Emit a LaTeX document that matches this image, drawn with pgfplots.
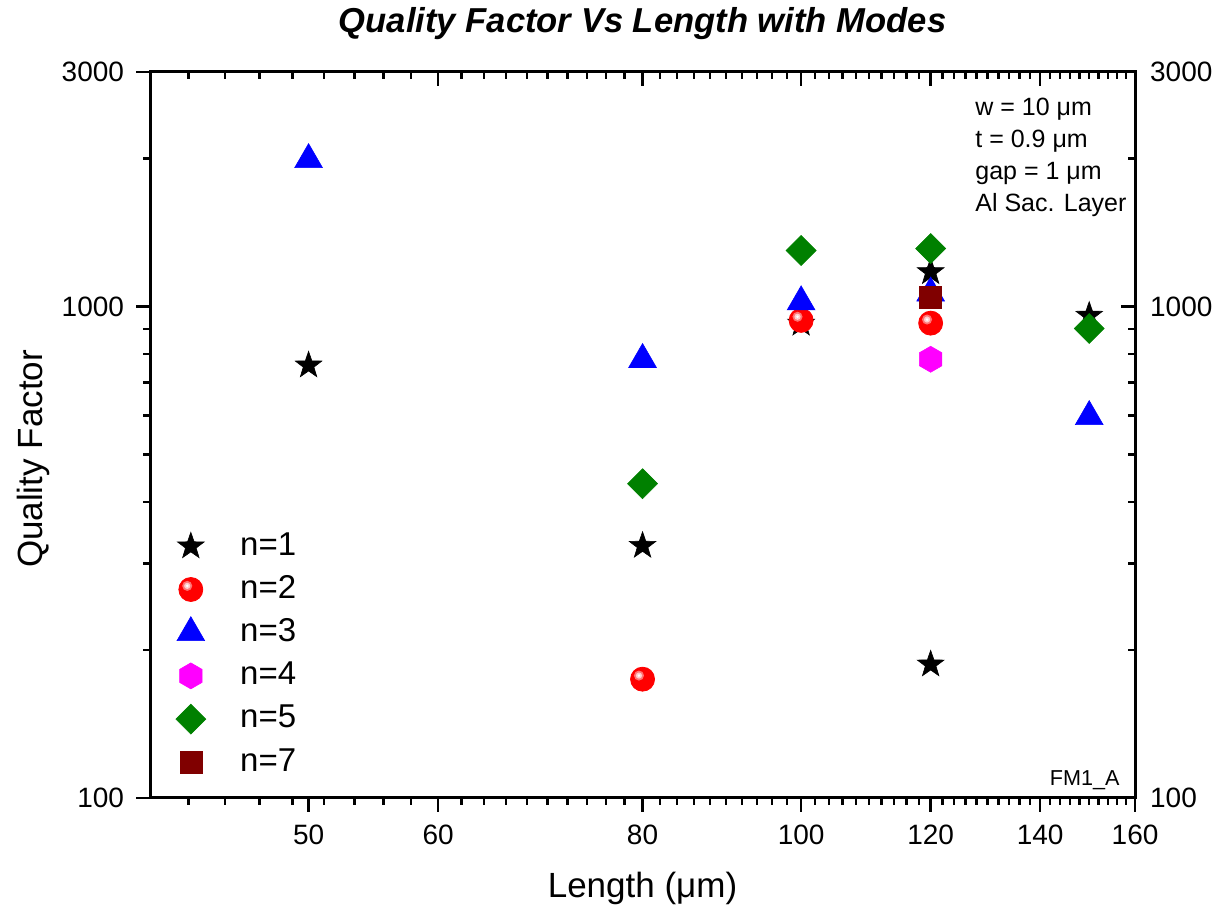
\documentclass[border=0pt]{standalone}
\usepackage{pgfplots}
\pgfplotsset{compat=1.18}
\usepackage{fontspec}
\setmainfont{Liberation Sans}
\definecolor{dkred}{RGB}{128,0,0}
\definecolor{dkgreen}{RGB}{0,128,0}
\definecolor{mymag}{RGB}{255,0,255}
\definecolor{myblue}{RGB}{0,0,255}
\definecolor{myred}{RGB}{255,0,0}
\pgfdeclareplotmark{hexagon*}{%
  \pgfpathmoveto{\pgfqpointpolar{90}{\pgfplotmarksize}}%
  \pgfpathlineto{\pgfqpointpolar{150}{\pgfplotmarksize}}%
  \pgfpathlineto{\pgfqpointpolar{210}{\pgfplotmarksize}}%
  \pgfpathlineto{\pgfqpointpolar{270}{\pgfplotmarksize}}%
  \pgfpathlineto{\pgfqpointpolar{330}{\pgfplotmarksize}}%
  \pgfpathlineto{\pgfqpointpolar{30}{\pgfplotmarksize}}%
  \pgfpathclose
  \pgfusepathqfillstroke}
\pgfdeclareplotmark{fstar}{%
  \pgfpathmoveto{\pgfqpointpolar{90}{\pgfplotmarksize}}%
  \pgfpathlineto{\pgfqpointpolar{126}{0.4\pgfplotmarksize}}%
  \pgfpathlineto{\pgfqpointpolar{162}{\pgfplotmarksize}}%
  \pgfpathlineto{\pgfqpointpolar{198}{0.4\pgfplotmarksize}}%
  \pgfpathlineto{\pgfqpointpolar{234}{\pgfplotmarksize}}%
  \pgfpathlineto{\pgfqpointpolar{270}{0.4\pgfplotmarksize}}%
  \pgfpathlineto{\pgfqpointpolar{306}{\pgfplotmarksize}}%
  \pgfpathlineto{\pgfqpointpolar{342}{0.4\pgfplotmarksize}}%
  \pgfpathlineto{\pgfqpointpolar{18}{\pgfplotmarksize}}%
  \pgfpathlineto{\pgfqpointpolar{54}{0.4\pgfplotmarksize}}%
  \pgfpathclose
  \pgfusepathqfillstroke}
\pgfdeclareplotmark{shinyball}{%
  \pgfsetfillcolor{myred}\pgfsetstrokecolor{myred}%
  \pgfpathcircle{\pgfpointorigin}{\pgfplotmarksize}%
  \pgfusepathqfillstroke
  \pgfsetfillcolor{myred!55!white}%
  \pgfpathcircle{\pgfqpoint{-0.3\pgfplotmarksize}{0.3\pgfplotmarksize}}{0.42\pgfplotmarksize}%
  \pgfusepathqfill
  \pgfsetfillcolor{myred!20!white}%
  \pgfpathcircle{\pgfqpoint{-0.3\pgfplotmarksize}{0.3\pgfplotmarksize}}{0.26\pgfplotmarksize}%
  \pgfusepathqfill
  \pgfsetfillcolor{white}%
  \pgfpathcircle{\pgfqpoint{-0.3\pgfplotmarksize}{0.3\pgfplotmarksize}}{0.12\pgfplotmarksize}%
  \pgfusepathqfill}
\pgfplotsset{
  common/.style={
    scale only axis, width=492.5pt, height=363pt,
    xmin=40, xmax=160, ymin=100, ymax=3000,
    minor xtick={42.2222,44.4444,46.6667,48.8889,51.1111,53.3333,55.5556,57.7778,
      62,64,66,68,70,72,74,76,78,82,84,86,88,90,92,94,96,98,
      102,104,106,108,110,112,114,116,118,122,124,126,128,130,132,134,136,138,
      142,144,146,148,150,152,154,156,158},
    minor ytick={200,300,400,500,600,700,800,900,2000},
    major tick length=7pt, minor tick length=3.5pt,
    every tick/.style={black, line width=1.2pt},
    axis line style={line width=1.5pt},
    tick label style={font=\fontsize{14}{16}\selectfont},
    /pgf/number format/assume math mode=true,
  },
  mym/.style={only marks,
    legend image code/.code={\path (0pt,0pt) (42.5pt,0pt); \draw[mark repeat=2,mark phase=2,##1] plot coordinates {(0pt,0pt) (20pt,0pt) (40pt,0pt)};}},
}
\begin{document}
\begin{tikzpicture}
\useasboundingbox (-75pt,-56pt) rectangle (537pt,399pt);
\begin{loglogaxis}[common, at={(0,0)}, anchor=south west,
  tick align=inside,
  xtick pos=right, ytick pos=right, yticklabel pos=right,
  xtick={40,60,80,100,120,140,160}, xticklabels={},
  ytick={100,1000,3000}, yticklabels={100,1000,3000},
  yticklabel style={xshift=4pt},
]
\addplot[draw=none, forget plot] coordinates {(50,200)};
\end{loglogaxis}
\begin{loglogaxis}[common, name=ax, at={(0,0)}, anchor=south west,
  tick align=outside,
  xtick pos=left, ytick pos=left,
  xtick={50,60,80,100,120,140,160}, xticklabels={50,60,80,100,120,140,160},
  xticklabel style={yshift=-3pt},
  ytick={100,1000,3000}, yticklabels={100,1000,3000},
  yticklabel style={xshift=-2.5pt},
  legend style={at={(axis description cs:0.0,0.377)}, anchor=north west,
    draw=none, fill=none, inner sep=0pt, row sep=0pt,
    font=\fontsize{16.5}{19}\selectfont,
    nodes={text height=12pt, text depth=3.2pt, inner ysep=3.2pt}},
  legend cell align=left,
]
\addplot[mym, mark=fstar, mark size=7pt, mark options={fill=black, draw=black, line width=0.3pt}]
  coordinates {(50,759) (80,326) (100,923) (120,1175) (120,187) (150,958)};
\addlegendentry{n=1}
\addplot[mym, mark=shinyball, mark size=6pt]
  coordinates {(80,174.5) (100,937) (120,925)};
\addlegendentry{n=2}
\addplot[mym, mark=triangle*, mark size=8pt, mark options={fill=myblue, draw=myblue, line width=0.3pt}]
  coordinates {(50,1990) (80,780) (100,1022) (120,1065) (150,597)};
\addlegendentry{n=3}
\addplot[mym, mark=hexagon*, mark size=6.5pt, mark options={fill=mymag, draw=mymag, line width=0.3pt}]
  coordinates {(120,781)};
\addlegendentry{n=4}
\addplot[mym, mark=square*, mark size=5.3pt, mark options={rotate=45, fill=dkgreen, draw=dkgreen, line width=0.3pt}]
  coordinates {(80,436) (100,1300) (120,1312) (150,902)};
\addlegendentry{n=5}
\addplot[mym, mark=square*, mark size=5.5pt, mark options={fill=dkred, draw=dkred, line width=0.3pt}]
  coordinates {(120,1044)};
\addlegendentry{n=7}
\end{loglogaxis}
\node[anchor=base, font=\fontsize{17.3}{20}\selectfont\bfseries\itshape] at ([yshift=19.5pt]ax.north) {Quality Factor Vs Length with Modes};
\node[anchor=base, font=\fontsize{17.5}{20}\selectfont] at ([yshift=-49.5pt]ax.south) {Length (μm)};
\node[anchor=base, rotate=90, font=\fontsize{17.5}{20}\selectfont] at ([xshift=-53.5pt,yshift=-12pt]ax.west) {Quality Factor};
\begin{scope}[every node/.style={anchor=base west, font=\fontsize{12.5}{15}\selectfont, inner sep=0pt}]
\node at ([xshift=412.5pt,yshift=-22pt]ax.north west) {w = 10 μm};
\node at ([xshift=412.5pt,yshift=-38pt]ax.north west) {t = 0.9 μm};
\node at ([xshift=412.5pt,yshift=-54pt]ax.north west) {gap = 1 μm};
\node at ([xshift=412.5pt,yshift=-70pt]ax.north west) {Al Sac. Layer};
\end{scope}
\node[anchor=base east, inner sep=0pt, font=\fontsize{10.8}{13}\selectfont] at ([xshift=-7.5pt,yshift=6.5pt]ax.south east) {FM1\_A};
\end{tikzpicture}
\end{document}
